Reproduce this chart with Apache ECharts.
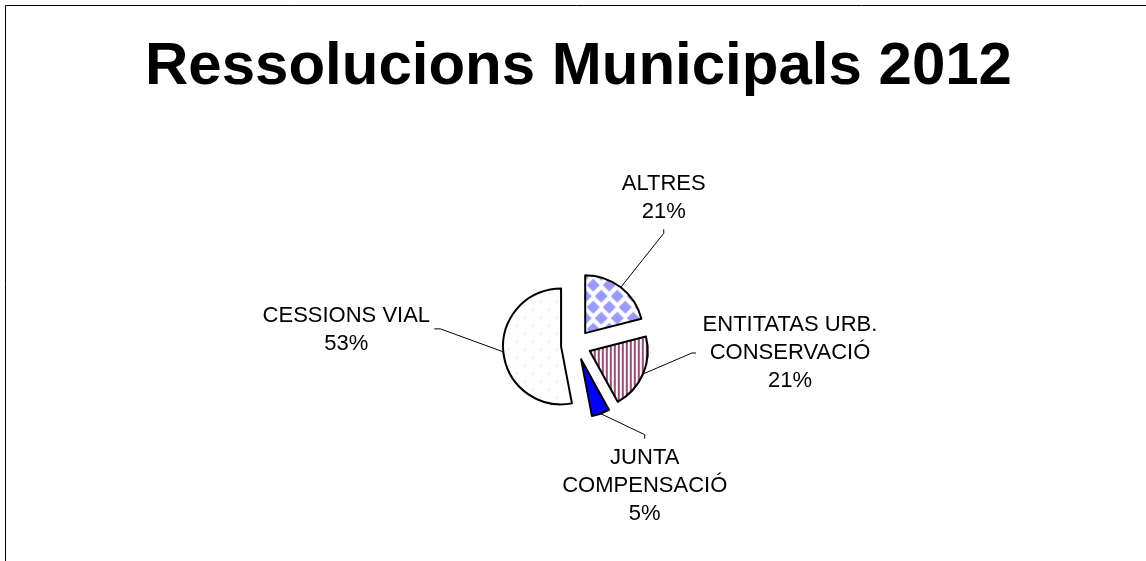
<!DOCTYPE html>
<html>
<head>
<meta charset="utf-8">
<script src="https://cdn.jsdelivr.net/npm/echarts@6/dist/echarts.min.js"></script>
<style>
html,body{margin:0;padding:0;background:#fff;}
#chart{width:1146px;height:561px;}
</style>
</head>
<body>
<div id="chart"></div>
<script>
// ---- data ----
const titleText = 'Ressolucions Municipals 2012';
const categories = ['ALTRES', 'ENTITATAS URB.\nCONSERVACIÓ', 'JUNTA\nCOMPENSACIÓ', 'CESSIONS VIAL'];
const values = [21, 21, 5, 53];

// ---- styling helpers ----
function makeTile(w, h, draw) {
  const c = document.createElement('canvas');
  c.width = w; c.height = h;
  const g = c.getContext('2d');
  g.fillStyle = '#ffffff';
  g.fillRect(0, 0, w, h);
  draw(g);
  return c;
}
const diamondTile = makeTile(16, 22, function (g) {
  g.fillStyle = '#9999ff';
  const centers = [[0, 0], [16, 0], [0, 22], [16, 22], [8, 11]];
  centers.forEach(function (p) {
    g.beginPath();
    g.moveTo(p[0], p[1] - 6.5);
    g.lineTo(p[0] + 6.5, p[1]);
    g.lineTo(p[0], p[1] + 6.5);
    g.lineTo(p[0] - 6.5, p[1]);
    g.closePath();
    g.fill();
  });
});
const stripeTile = makeTile(4, 4, function (g) {
  g.fillStyle = '#a04a78';
  g.fillRect(0, 0, 2, 4);
});
const dotTile = makeTile(16, 16, function (g) {
  g.fillStyle = '#c6fbff';
  g.fillRect(3, 3, 2, 2);
  g.fillRect(11, 11, 2, 2);
});
const sliceFills = [
  { image: diamondTile, repeat: 'repeat' },
  { image: stripeTile, repeat: 'repeat' },
  '#0000ff',
  { image: dotTile, repeat: 'repeat' }
];
// leader line bends relative to the slice's line start
const leaderBends = [
  [[43, -54], [43, -58]],
  [[49, -21], [53, -21]],
  [[44, 21], [44, 25]],
  [[-63, -23], [-69, -23]]
];
// text block shift from the default label anchor
const labelShift = [[38, -89], [142, -21], [39, 72], [-152, -22]];

const FONT = '"Liberation Sans", Arial, sans-serif';
const rich = { t: { fontFamily: FONT, fontSize: 22, lineHeight: 28, color: '#000' } };
labelShift.forEach(function (s, i) {
  rich['sp' + i] = { fontSize: 1, lineHeight: Math.max(1, Math.abs(2 * s[1])) };
});

const chart = echarts.init(document.getElementById('chart'), null, { renderer: 'canvas' });

const option = {
  animation: false,
  backgroundColor: '#ffffff',
  title: {
    text: titleText,
    left: 140,
    top: 32,
    textStyle: { fontFamily: FONT, fontSize: 60, fontWeight: 'bold', color: '#000' }
  },
  graphic: [{
    type: 'rect',
    shape: { x: 5.5, y: 5.5, width: 1300, height: 700 },
    style: { fill: 'none', stroke: '#000', lineWidth: 1 },
    silent: true
  }],
  series: [{
    type: 'pie',
    center: [576, 345],
    radius: 58,
    startAngle: 90,
    clockwise: true,
    avoidLabelOverlap: false,
    selectedMode: 'multiple',
    selectedOffset: 15,
    silent: true,
    emphasis: { disabled: true },
    itemStyle: { borderColor: '#000', borderWidth: 2 },
    select: { itemStyle: { borderColor: '#000', borderWidth: 2 } },
    label: {
      show: true,
      position: 'outside',
      fontFamily: FONT,
      fontSize: 22,
      lineHeight: 28,
      color: '#000',
      align: 'center',
      rich: rich,
      formatter: function (p) {
        const lines = p.name.split('\n').concat([Math.round(p.percent) + '%']);
        const body = lines.map(function (l) { return '{t|' + l + '}'; }).join('\n');
        const sp = '{sp' + p.dataIndex + '| }';
        return labelShift[p.dataIndex][1] < 0 ? body + '\n' + sp : sp + '\n' + body;
      }
    },
    labelLine: { show: true, length: 0, length2: 0, lineStyle: { color: '#000', width: 1 } },
    labelLayout: function (p) {
      const s = p.labelLinePoints[0];
      const pts = [[s[0], s[1]]].concat(leaderBends[p.dataIndex].map(function (d) {
        return [s[0] + d[0], s[1] + d[1]];
      }));
      return { align: 'center', verticalAlign: 'middle', labelLinePoints: pts };
    },
    data: categories.map(function (name, i) {
      const sx = labelShift[i][0];
      return {
        name: name,
        value: values[i],
        selected: true,
        itemStyle: { color: sliceFills[i] },
        label: { padding: [0, Math.max(0, -2 * sx), 0, Math.max(0, 2 * sx)] }
      };
    })
  }]
};
chart.setOption(option);
</script>
</body>
</html>
